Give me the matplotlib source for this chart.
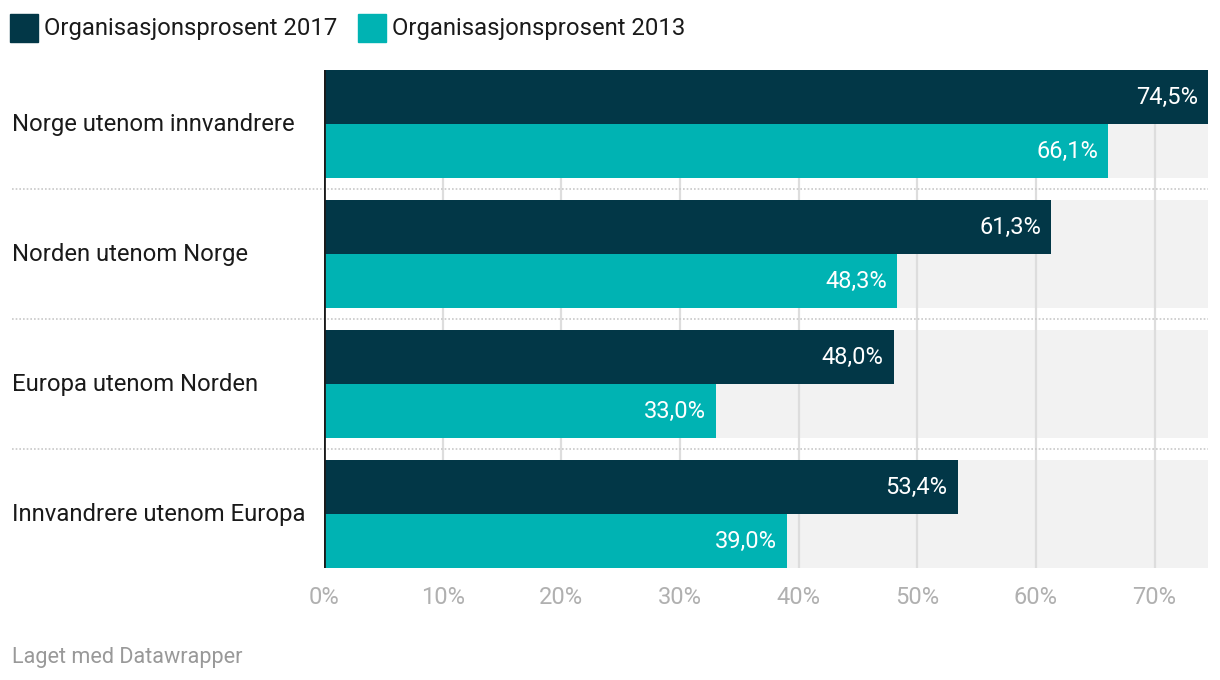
import matplotlib.pyplot as plt
import matplotlib.transforms as mtransforms
from matplotlib.patches import Rectangle
import numpy as np

plt.rcParams['font.family'] = ['Roboto', 'DejaVu Sans']

categories = ['Norge utenom innvandrere', 'Norden utenom Norge',
              'Europa utenom Norden', 'Innvandrere utenom Europa']
values_2017 = [74.5, 61.3, 48.0, 53.4]
values_2013 = [66.1, 48.3, 33.0, 39.0]
series_names = ['Organisasjonsprosent 2017', 'Organisasjonsprosent 2013']
ticks = [0, 10, 20, 30, 40, 50, 60, 70]

col_2017 = '#023747'
col_2013 = '#00b3b3'
bg_col = '#f2f2f2'

W, H = 1220, 680
fig = plt.figure(figsize=(W / 100, H / 100), dpi=100)
ax = fig.add_axes([324 / W, 1 - 568 / H, (1208 - 324) / W, (568 - 70) / H])

xmax = max(values_2017 + values_2013)
pitch = 130.0
bh = 54 / pitch
y = np.arange(len(categories))
y17 = y - bh / 2
y13 = y + bh / 2

# grey bands behind every bar
ax.barh(y17, xmax, height=bh, color=bg_col, zorder=0)
ax.barh(y13, xmax, height=bh, color=bg_col, zorder=0)

for t in ticks[1:]:
    ax.axvline(t, color='#dddddd', lw=1.6, zorder=1)

ax.barh(y17, values_2017, height=bh, color=col_2017, zorder=2)
ax.barh(y13, values_2013, height=bh, color=col_2013, zorder=2)

pad = 10 / ((1208 - 324) / xmax)
for yy, v in zip(y17, values_2017):
    ax.text(v - pad, yy, f'{v:.1f}%'.replace('.', ','), ha='right', va='center',
            color='white', fontsize=17, zorder=3)
for yy, v in zip(y13, values_2013):
    ax.text(v - pad, yy, f'{v:.1f}%'.replace('.', ','), ha='right', va='center',
            color='white', fontsize=17, zorder=3)

ax.set_xlim(0, xmax)
ax.set_ylim(len(categories) - 1 + bh, -bh)
ax.axvline(0, color='#1a1a1a', lw=2, zorder=4)

for s in ax.spines.values():
    s.set_visible(False)
ax.set_yticks([])
ax.set_xticks(ticks)
ax.set_xticklabels([f'{t}%' for t in ticks])
ax.tick_params(axis='x', length=0, pad=13, labelsize=17, labelcolor='#b0b0b0')

# dotted separators between groups
trans = mtransforms.blended_transform_factory(fig.transFigure, ax.transData)
for i in range(len(categories) - 1):
    ax.plot([12 / W, 1208 / W], [i + 0.5, i + 0.5], transform=trans,
            ls=(0, (1, 1.2)), color='#c8c8c8', lw=1.2, clip_on=False, zorder=1)

# category labels
for i, c in enumerate(categories):
    ax.text(12 / W, i, c, transform=trans, ha='left', va='center',
            fontsize=17.2, color='#1a1a1a')

# legend
for x0, name, col in [(10, series_names[0], col_2017), (358, series_names[1], col_2013)]:
    fig.patches.append(Rectangle((x0 / W, 1 - 42 / H), 28 / W, 28 / H,
                                 transform=fig.transFigure, color=col))
    fig.text((x0 + 34) / W, 1 - 28 / H, name, ha='left', va='center',
             fontsize=17.2, color='#1a1a1a')

fig.text(12 / W, 1 - 657 / H, 'Laget med Datawrapper', ha='left', va='center',
         fontsize=15.6, color='#999999')

fig.savefig('out.png', dpi=100)
